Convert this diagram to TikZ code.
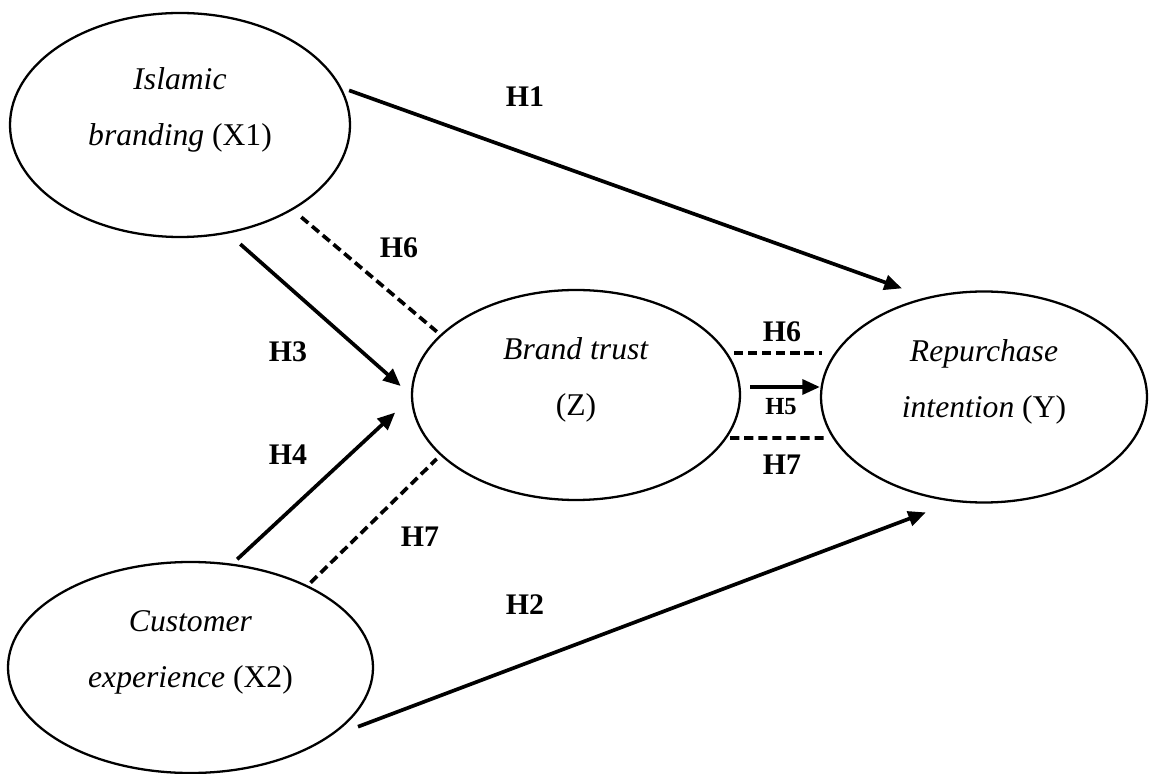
\documentclass[tikz,border=0pt]{standalone}
\usepackage{fontspec}
\setmainfont{Liberation Serif}
\usetikzlibrary{arrows.meta,shapes.geometric}

\begin{document}
\begin{tikzpicture}[
	var/.style={ellipse,draw,line width=1.3pt,inner sep=0pt,align=center,text depth=0.75cm,font=\fontsize{18}{32}\selectfont},
	hyp/.style={font=\bfseries\fontsize{17}{20}\selectfont},
	effect/.style={line width=2.1pt,-{Triangle[length=10pt,width=8.5pt]}},
	mediate/.style={line width=2.1pt,dash pattern=on 5.2pt off 2.8pt}]
		\useasboundingbox (0,0) rectangle (23,-15.48);
		
		\node[var,minimum width=6.8cm,minimum height=4.48cm] (x1) at (3.6,-2.5){\textit{Islamic}\\\textit{branding} (X1)};
		\node[var,minimum width=7.3cm,minimum height=4.22cm] (x2) at (3.81,-13.35){\textit{Customer}\\\textit{experience} (X2)};
		\node[var,minimum width=6.56cm,minimum height=4.2cm] (z) at (11.52,-7.9){\textit{Brand trust}\\(Z)};
		\node[var,minimum width=6.52cm,minimum height=4.22cm] (y) at (19.68,-7.94){\textit{Repurchase}\\\textit{intention} (Y)};
		
		\draw[effect,shorten <=0.16cm,shorten >=0.52cm] (x1.13) -- (y.120);
		\draw[effect,shorten <=0.32cm,shorten >=0.27cm] (x1.-66) -- (z.180);
		\draw[effect,shorten <=0.13cm,shorten >=0.43cm] (x2.68) -- (z.181);
		\draw[effect,shorten <=0.63cm,shorten >=0.6cm] (x2.-27) -- (y.254);
		\draw[mediate,shorten <=0.22cm,shorten >=0.09cm] (x1.-37) -- (z.156);
		\draw[mediate,shorten <=0.08cm,shorten >=0.1cm] (x2.35) -- (z.204);
		
		\draw[mediate] ([xshift=-0.14cm,yshift=0.84cm]z.east) -- ([xshift=0.04cm,yshift=0.88cm]y.west);
		\draw[effect] ([xshift=0.18cm,yshift=0.16cm]z.east) -- ([yshift=0.2cm]y.west);
		\draw[mediate] ([xshift=-0.22cm,yshift=-0.86cm]z.east) -- ([xshift=0.1cm,yshift=-0.82cm]y.west);
		
		\node[hyp] (h1) at (10.5,-1.94){H1};
		\node[hyp] (h6a) at (7.98,-4.96){H6};
		\node[hyp] (h3) at (5.76,-7.04){H3};
		\node[hyp] (h4) at (5.76,-9.1){H4};
		\node[hyp] (h7a) at (8.4,-10.74){H7};
		\node[hyp] (h6b) at (15.64,-6.64){H6};
		\node[hyp,font=\bfseries\fontsize{14}{16}\selectfont] (h5) at (15.62,-8.14){H5};
		\node[hyp] (h7b) at (15.64,-9.3){H7};
		\node[hyp] (h2) at (10.5,-12.1){H2};
	\end{tikzpicture}
\end{document}
